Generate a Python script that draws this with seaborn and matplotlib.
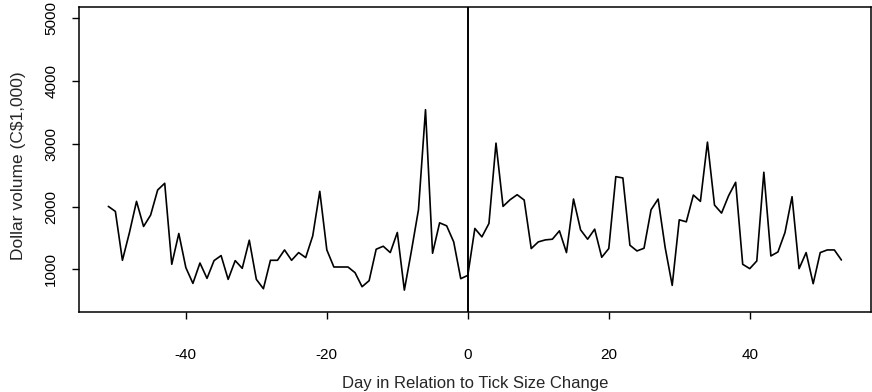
import numpy as np
import pandas as pd
import matplotlib
matplotlib.use("Agg")
import matplotlib.pyplot as plt
import seaborn as sns

days = list(range(-51, 54))
volume = [
    2003, 1923, 1144, 1587, 2083, 1683, 1864, 2264, 2371, 1080,
    1571, 1027, 776, 1101, 856, 1139, 1219, 840, 1139, 1016,
    1464, 840, 691, 1144, 1144, 1309, 1144, 1267, 1187, 1533,
    2243, 1309, 1037, 1037, 1037, 947, 723, 819, 1320, 1368,
    1267, 1587, 669, 1293, 1949, 3544, 1256, 1741, 1693, 1437,
    851, 904, 1651, 1517, 1731, 3011, 2003, 2109, 2189, 2104,
    1331, 1437, 1469, 1480, 1613, 1267, 2120, 1629, 1480, 1640,
    1192, 1331, 2477, 2456, 1384, 1293, 1336, 1949, 2120, 1347,
    744, 1789, 1757, 2184, 2083, 3027, 2024, 1896, 2173, 2387,
    1080, 1011, 1133, 2547, 1213, 1277, 1587, 2157, 1011, 1267,
    771, 1267, 1309, 1309, 1149,
]
x_ticks = [-40, -20, 0, 20, 40]
y_ticks = [1000, 2000, 3000, 4000, 5000]
x_label = "Day in Relation to Tick Size Change"
y_label = "Dollar volume (C$1,000)"

df = pd.DataFrame({"day": days, "volume": volume})

sns.set_style("ticks")
plt.rcParams["font.family"] = ["Liberation Sans", "DejaVu Sans"]

fig = plt.figure(figsize=(8.72, 3.92), dpi=100)
ax = fig.add_axes([79 / 872, 1 - 312 / 392, (870.7 - 79) / 872, (312 - 7) / 392])

sns.lineplot(data=df, x="day", y="volume", ax=ax, color="black", linewidth=1.2)
ax.axvline(0, color="black", linewidth=1.4)

ymin, ymax = 500, 5000
pad_y = 0.04 * (ymax - ymin)
ax.set_ylim(ymin - pad_y, ymax + pad_y)
xr = max(days) - min(days)
ax.set_xlim(min(days) - 0.04 * xr, max(days) + 0.04 * xr)

ax.set_xticks(x_ticks)
ax.set_xticklabels([str(t) for t in x_ticks])
ax.set_yticks(y_ticks)
ax.set_yticklabels([str(t) for t in y_ticks], rotation=90, va="center")

ax.tick_params(axis="both", direction="out", length=5, width=1.0, colors="black", labelsize=11)
ax.tick_params(axis="x", pad=21)
ax.tick_params(axis="y", pad=10)

for sp in ax.spines.values():
    sp.set_visible(True)
    sp.set_color("black")
    sp.set_linewidth(1.1)

ax.set_xlabel(x_label, fontsize=12)
ax.set_ylabel(y_label, fontsize=12.5)
ax.xaxis.set_label_coords(0.5, (312 - 376) / 305)
ax.yaxis.set_label_coords((26 - 79) / 791.7, 0.5 - (166 - 159.5) / 305)

fig.savefig("out.png", dpi=100)
